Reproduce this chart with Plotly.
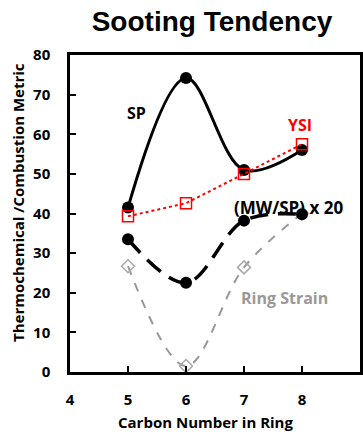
import plotly.graph_objects as go

carbon = [5, 6, 7, 8]
sp = [41.5, 74.2, 51.0, 56.0]
ysi = [39.3, 42.6, 50.0, 57.5]
mw_sp = [33.5, 22.5, 38.2, 39.8]
ring_strain = [26.7, 1.5, 26.4, 40.0]

x_ticks = [4, 5, 6, 7, 8, 9]
y_ticks = [0, 10, 20, 30, 40, 50, 60, 70, 80]

FONT = "Open Sans"
W, H = 363, 435
L, T, R, B = 70, 55, 3, 63
PW = W - L - R
PH = H - T - B

fig = go.Figure()
fig.add_trace(go.Scatter(x=carbon, y=ring_strain, mode="lines+markers",
    line=dict(color="#999999", width=2, dash="dash", shape="spline"),
    marker=dict(symbol="diamond-open", size=10, color="#aaaaaa", line=dict(width=1.5))))
fig.add_trace(go.Scatter(x=carbon, y=mw_sp, mode="lines+markers",
    line=dict(color="black", width=3.5, dash="18px,10px", shape="spline"),
    marker=dict(symbol="circle", size=12, color="black")))
fig.add_trace(go.Scatter(x=carbon, y=sp, mode="lines+markers",
    line=dict(color="black", width=3, shape="spline"),
    marker=dict(symbol="circle", size=12, color="black")))
fig.add_trace(go.Scatter(x=carbon, y=ysi, mode="lines+markers",
    line=dict(color="red", width=2, dash="dot"),
    marker=dict(symbol="square-open", size=11, color="red", line=dict(width=1.5))))

ann = [
    dict(x=5.15, y=65.3, text="<b>SP</b>", font=dict(color="black", size=16)),
    dict(x=7.97, y=62.3, text="<b>YSI</b>", font=dict(color="red", size=16)),
    dict(x=7.77, y=41.6, text="<b>(MW/SP) x 20</b>", font=dict(color="black", size=17)),
    dict(x=7.69, y=18.6, text="<b>Ring Strain</b>", font=dict(color="#999999", size=16)),
]
for a in ann:
    fig.add_annotation(x=a["x"], y=a["y"], text=a["text"], showarrow=False,
                       font=dict(family=FONT, **a["font"]))

# axis titles
fig.add_annotation(xref="paper", yref="paper", x=(18 - L) / PW, y=(T + PH - 203) / PH,
                   text="<b>Thermochemical /Combustion Metric</b>", textangle=-90,
                   showarrow=False, xanchor="center", yanchor="middle",
                   font=dict(family=FONT, size=15, color="black"))
fig.add_annotation(xref="paper", yref="paper", x=(205 - L) / PW, y=(T + PH - 422) / PH,
                   text="<b>Carbon Number in Ring</b>",
                   showarrow=False, xanchor="center", yanchor="middle",
                   font=dict(family=FONT, size=15, color="black"))

fig.update_layout(
    width=W, height=H,
    margin=dict(l=L, r=R, t=T, b=B, autoexpand=False),
    paper_bgcolor="white", plot_bgcolor="white",
    showlegend=False,
    hovermode=False,
    font=dict(family=FONT, color="black"),
    title=dict(text="<b>Sooting Tendency</b>", x=212 / W, xanchor="center",
               y=1 - 21 / H, yanchor="middle",
               font=dict(size=28, family="Liberation Sans", color="black")),
)
fig.update_xaxes(range=[4, 9], tickvals=x_ticks, ticktext=[f"<b>{v}</b>" for v in x_ticks],
                 ticks="inside", ticklen=6, tickwidth=1.5, tickcolor="black",
                 showline=True, linewidth=2.5, linecolor="black", mirror=True, showgrid=False,
                 zeroline=False, tickfont=dict(size=15), automargin=False,
                 ticklabelstandoff=12)
fig.update_yaxes(range=[0, 80], tickvals=y_ticks, ticktext=[f"<b>{v}</b>" for v in y_ticks],
                 ticks="inside", ticklen=6, tickwidth=1.5, tickcolor="black",
                 showline=True, linewidth=2.5, linecolor="black", mirror=True, showgrid=False,
                 zeroline=False, tickfont=dict(size=15), automargin=False,
                 ticklabelstandoff=14)

fig.write_html("out.html", config={"displayModeBar": False},
               post_script="document.body.style.margin='0';document.body.style.overflow='hidden';")
